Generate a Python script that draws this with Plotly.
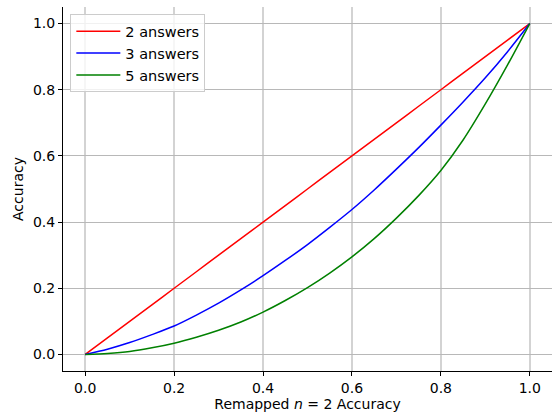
import plotly.graph_objects as go

x_vals = [0.0, 0.05, 0.1, 0.15, 0.2, 0.25, 0.3, 0.35, 0.4, 0.45, 0.5,
          0.55, 0.6, 0.65, 0.7, 0.75, 0.8, 0.85, 0.9, 0.95, 1.0]
acc_2 = [0.0, 0.05, 0.1, 0.15, 0.2, 0.25, 0.3, 0.35, 0.4, 0.45, 0.5,
         0.55, 0.6, 0.65, 0.7, 0.75, 0.8, 0.85, 0.9, 0.95, 1.0]
acc_3 = [0.0, 0.016, 0.036, 0.060, 0.086, 0.119, 0.155, 0.195, 0.238, 0.284, 0.332,
         0.384, 0.438, 0.497, 0.560, 0.625, 0.693, 0.763, 0.836, 0.915, 1.0]
acc_5 = [0.0, 0.003, 0.009, 0.020, 0.034, 0.052, 0.073, 0.098, 0.128, 0.163, 0.202,
         0.246, 0.295, 0.350, 0.412, 0.480, 0.556, 0.648, 0.757, 0.875, 1.0]
series_names = ["2 answers", "3 answers", "5 answers"]
series_colors = ["red", "blue", "green"]
tick_vals = [0.0, 0.2, 0.4, 0.6, 0.8, 1.0]

fig = go.Figure()
for name, ys, col in zip(series_names, [acc_2, acc_3, acc_5], series_colors):
    fig.add_trace(go.Scatter(x=x_vals, y=ys, mode="lines", name=name,
                             line=dict(color=col, width=1.5, shape="spline", smoothing=0.8)))

font = "DejaVu Sans"
fig.update_layout(
    width=554, height=414,
    margin=dict(l=63, r=2, t=7, b=43),
    plot_bgcolor="white", paper_bgcolor="white",
    font=dict(family=font, size=14, color="black"),
    showlegend=True,
    legend=dict(x=0.015, y=0.98, xanchor="left", yanchor="top",
                bgcolor="rgba(255,255,255,0.8)", bordercolor="#cccccc", borderwidth=1,
                font=dict(family=font, size=14.5), itemwidth=44),
    xaxis=dict(range=[-0.05, 1.05], tickvals=tick_vals, tickformat=".1f",
               showgrid=True, gridcolor="#d3d3d3", gridwidth=1.5,
               showline=True, linecolor="black", linewidth=1,
               ticks="outside", ticklen=4, tickcolor="black",
               zeroline=False, mirror=False,
               title=dict(text="Remapped <i>n</i> = 2 Accuracy", standoff=4,
                          font=dict(family=font, size=14))),
    yaxis=dict(range=[-0.05, 1.05], tickvals=tick_vals, tickformat=".1f",
               showgrid=True, gridcolor="#b8b8b8", gridwidth=1,
               showline=True, linecolor="black", linewidth=1,
               ticks="outside", ticklen=4, tickcolor="black",
               zeroline=False, mirror=False,
               title=dict(text="Accuracy", standoff=6,
                          font=dict(family=font, size=14))),
)

fig.write_html("out.html", config={"displayModeBar": False},
               post_script="document.body.style.margin='0';")
